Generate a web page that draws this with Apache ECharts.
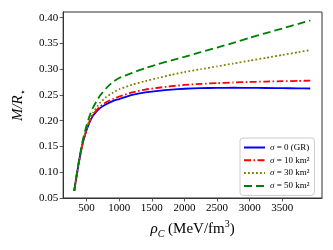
<!DOCTYPE html>
<html>
<head>
<meta charset="utf-8">
<script src="https://cdn.jsdelivr.net/npm/echarts@6/dist/echarts.min.js"></script>
<style>html,body{margin:0;padding:0;background:#fff}#c{width:333px;height:250px}</style>
</head>
<body>
<div id="c"></div>
<script>
const rhoC = [310, 340, 370, 410, 450, 500, 550, 600, 700, 800, 900, 1000, 1200, 1400, 1600, 1800, 2000, 2250, 2500, 2750, 3000, 3250, 3500, 3750, 3930];
const mrGR = [0.064, 0.088, 0.111, 0.139, 0.161, 0.182, 0.198, 0.210, 0.224, 0.232, 0.238, 0.242, 0.250, 0.255, 0.258, 0.2605, 0.262, 0.2632, 0.2638, 0.264, 0.2638, 0.2635, 0.2632, 0.2628, 0.2625];
const mr10 = [0.064, 0.088, 0.111, 0.139, 0.162, 0.183, 0.200, 0.212, 0.227, 0.236, 0.242, 0.247, 0.255, 0.2605, 0.264, 0.267, 0.2695, 0.2715, 0.273, 0.2742, 0.2752, 0.276, 0.2767, 0.2773, 0.2778];
const mr30 = [0.064, 0.088, 0.112, 0.140, 0.164, 0.186, 0.203, 0.216, 0.234, 0.246, 0.254, 0.261, 0.270, 0.277, 0.283, 0.289, 0.2945, 0.300, 0.3055, 0.311, 0.3165, 0.322, 0.3275, 0.333, 0.337];
const mr50 = [0.064, 0.089, 0.113, 0.142, 0.167, 0.191, 0.211, 0.226, 0.248, 0.263, 0.275, 0.283, 0.293, 0.302, 0.310, 0.317, 0.324, 0.333, 0.342, 0.351, 0.361, 0.370, 0.379, 0.388, 0.3945];
const xTicks = [500, 1000, 1500, 2000, 2500, 3000, 3500];
const yTicks = [0.05, 0.10, 0.15, 0.20, 0.25, 0.30, 0.35, 0.40];
const seriesNames = ['{i|σ} = 0 (GR)', '{i|σ} = 10 km²', '{i|σ} = 30 km²', '{i|σ} = 50 km²'];

const font = 'Liberation Serif';
const chart = echarts.init(document.getElementById('c'), null, {renderer: 'canvas'});
const pair = arr => rhoC.map((x, i) => [x, arr[i]]);
function mk(name, arr, color, type) {
  return {
    name: name, type: 'line', data: pair(arr), symbol: 'none', showSymbol: false,
    smooth: 0.15, animation: false,
    lineStyle: {color: color, width: 1.8, type: type, cap: 'butt'},
    itemStyle: {color: color}
  };
}
chart.setOption({
  animation: false,
  backgroundColor: '#fff',
  grid: {left: 57, right: 11, top: 12, bottom: 52, show: true, borderColor: '#333', borderWidth: 1, backgroundColor: 'transparent'},
  xAxis: {
    type: 'value', min: 140, max: 4110,
    name: '{i|ρ}{sub|C} (MeV/fm{sup|3})', nameLocation: 'middle', nameGap: 19,
    nameTextStyle: {fontFamily: font, fontSize: 15, color: '#000', lineHeight: 20,
      rich: {
        i: {fontFamily: font, fontStyle: 'italic', fontSize: 15, color: '#000', lineHeight: 20},
        sub: {fontFamily: font, fontStyle: 'italic', fontSize: 10, color: '#000', lineHeight: 20, verticalAlign: 'bottom'},
        sup: {fontFamily: font, fontSize: 10, color: '#000', lineHeight: 20, verticalAlign: 'top'}
      }},
    axisLine: {show: true, lineStyle: {color: '#333', width: 1}},
    axisTick: {show: true, inside: false, length: 3.5, customValues: xTicks, lineStyle: {color: '#333', width: 0.8}},
    axisLabel: {customValues: xTicks, fontFamily: font, fontSize: 11, color: '#000', margin: 5,
      formatter: v => String(Math.round(v))},
    splitLine: {show: false}
  },
  yAxis: {
    type: 'value', min: 0.05, max: 0.411,
    name: '{i|M/R}{s|⋆}', nameLocation: 'middle', nameGap: 33,
    nameTextStyle: {fontFamily: font, fontSize: 15, color: '#000', lineHeight: 20,
      rich: {
        i: {fontFamily: font, fontStyle: 'italic', fontSize: 15, color: '#000', lineHeight: 20},
        s: {fontFamily: 'DejaVu Sans', fontSize: 10, color: '#000', lineHeight: 20, verticalAlign: 'bottom'}
      }},
    axisLine: {show: true, lineStyle: {color: '#333', width: 1}},
    axisTick: {show: true, inside: false, length: 3.5, customValues: yTicks, lineStyle: {color: '#333', width: 0.8}},
    axisLabel: {customValues: yTicks, fontFamily: font, fontSize: 11, color: '#000', margin: 5,
      formatter: v => v.toFixed(2)},
    splitLine: {show: false}
  },
  legend: {
    orient: 'vertical', left: 240, top: 138,
    padding: [5, 5, 5, 3], itemGap: 3.8, itemWidth: 21, itemHeight: 9,
    backgroundColor: '#fff', borderColor: '#ccc', borderWidth: 1, borderRadius: 3,
    itemStyle: {color: 'transparent', borderWidth: 0, opacity: 0},
    textStyle: {fontFamily: font, fontSize: 9, color: '#000', lineHeight: 9,
      rich: {i: {fontFamily: font, fontStyle: 'italic', fontSize: 9, color: '#000'}}},
    data: seriesNames
  },
  series: [
    mk(seriesNames[0], mrGR, '#0000ff', 'solid'),
    mk(seriesNames[1], mr10, '#ff0000', [7, 2.5, 1.5, 2.5]),
    mk(seriesNames[2], mr30, '#808000', [1.8, 2.2]),
    mk(seriesNames[3], mr50, '#008000', [8, 4])
  ]
});
</script>
</body>
</html>
